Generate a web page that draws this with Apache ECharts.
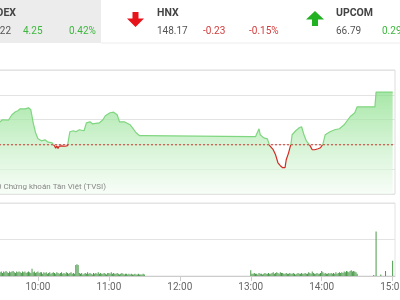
<!DOCTYPE html>
<html>
<head>
<meta charset="utf-8">
<script src="https://cdn.jsdelivr.net/npm/echarts@6/dist/echarts.min.js"></script>
<style>html,body{margin:0;padding:0;background:#fff}#c{width:400px;height:300px}</style>
</head>
<body>
<div id="c"></div>
<script>
// ---- data ----
var refPrice = 1011.97;
var priceTimes = ["9:15","9:20","9:25","9:28","9:30","9:35","9:38","9:41","9:43","9:45","9:49","9:52","9:54","9:56","9:58",
  "10:00","10:03","10:06","10:08","10:12","10:14","10:15","10:16","10:17","10:18","10:19","10:20","10:21","10:23","10:25","10:27",
  "10:30","10:32","10:35","10:39","10:41","10:44","10:46","10:52","10:55","10:57","11:01","11:04","11:07","11:09","11:13","11:18",
  "11:20","11:23","11:26","11:30","13:00","13:04","13:07","13:08","13:11","13:14","13:16","13:19","13:21","13:23","13:25","13:27",
  "13:29","13:30","13:32","13:34","13:35","13:38","13:41","13:43","13:45","13:47","13:50","13:52","13:54","13:57","13:59","14:01",
  "14:03","14:07","14:11","14:15","14:19","14:24","14:28","14:30","14:45","14:46","15:00"];
var priceValues = [1013.60,1013.95,1013.70,1013.82,1013.99,1013.95,1014.39,1014.63,1014.71,1014.87,1014.87,1014.95,1014.79,1013.74,1012.94,
  1012.45,1012.29,1012.37,1012.21,1012.13,1011.89,1011.70,1011.88,1011.68,1011.86,1011.70,1011.88,1011.72,1011.85,1011.90,1013.02,
  1013.10,1013.02,1013.18,1013.10,1013.74,1013.82,1013.66,1013.74,1013.99,1014.31,1014.55,1014.60,1014.39,1013.82,1013.82,1013.58,
  1013.34,1012.94,1012.70,1012.70,1012.62,1012.62,1013.26,1012.78,1012.53,1012.45,1011.90,1011.57,1011.16,1010.52,1010.28,1010.12,
  1010.12,1010.76,1011.32,1012.05,1012.78,1013.10,1013.34,1013.42,1012.78,1012.29,1011.92,1011.57,1011.57,1011.65,1011.73,1012.02,
  1012.78,1013.02,1013.18,1013.26,1013.58,1014.23,1014.55,1015.03,1015.03,1016.22,1016.22];

var volAMStart = "9:15";
var volAM = [1.2,0.8,0.7,0.6,0.7,0.5,0.6,0.6,0.5,0.7,0.6,0.5,0.6,
  0.5,0.6,0.4,0.6,0.5,0.7,0.5,0.4,0.6,0.5,0.6,0.7,0.5,0.4,0.6,0.5,0.6,0.5,0.4,0.6,0.5,0.6,0.4,0.5,0.6,0.5,0.4,1.0,0.5,0.6,0.4,0.5,
  0.6,0.4,0.5,0.5,0.3,0.5,0.4,0.5,0.3,0.4,0.5,0.3,0.4,0.5,0.4,0.3,0.5,0.4,0.3,0.4,0.5,0.3,0.4,0.3,0.5,0.4,0.3,0.4,0.5,0.3,
  0.4,0.3,1.5,1.6,1.5,0.4,0.3,0.4,0.2,0.3,0.4,0.3,0.5,0.3,0.4,0.3,0.2,0.4,0.3,0.4,0.3,0.5,0.3,0.4,0.3,0.3,0.4,0.3,0.2,0.4,
  0.4,0.3,0.5,0.3,0.4,0.3,0.3,0.4,0.3,0.2,0.3,0.4,0.3,0.2,0.3,0.3,0.2,0.3,0.2,0.3,0.2,0.2,0.3,0.2,0.2,0.3,0.2,0.2,0.2,0.3,0.2];
var volPMStart = "13:00";
var volPM = [0.8,0.3,0.3,0.4,0.3,0.3,0.2,0.4,0.3,0.3,0.2,0.3,0.4,0.3,0.3,0.4,0.3,0.3,0.4,0.5,0.3,0.4,0.5,0.4,0.3,0.5,0.4,0.4,0.3,0.3,
  0.4,0.3,0.3,0.4,0.3,0.3,0.4,0.3,0.2,0.3,0.4,0.3,0.3,0.4,0.3,0.3,0.4,0.3,0.3,0.5,0.4,0.3,0.6,0.4,0.3,0.3,0.4,0.3,0.3,0.4,
  0.7,0.5,0.3,0.4,0.3,0.3,0.4,0.3,0.4,0.3,0.4,0.3,0.5,0.3,0.4,0.5,0.4,0.5,0.4,0.6,0.5,0.7,0.6,0.5,0.7,0.8,0.6,0.7,0.6,0.5,0.3];
var volLateTimes = ["14:44","14:46","14:50","14:54","15:00"];
var volLate = [0.15,6.1,0.2,0.7,2.1];

var header = [
  {name:"VN-INDEX", price:"1,016.22", chg:"4.25", pct:"0.42%"},
  {name:"HNX", price:"148.17", chg:"-0.23", pct:"-0.15%"},
  {name:"UPCOM", price:"66.79", chg:"0.29", pct:"0.29%"}
];

// ---- helpers ----
function toMin(s){var p=s.split(':');return (+p[0])*60+(+p[1]);}
function fmt(m){var h=Math.floor(m/60),mm=m%60;return h+':'+(mm<10?'0':'')+mm;}

var priceData = priceTimes.map(function(t,i){return [toMin(t), priceValues[i]];});
var volData = [];
volAM.forEach(function(v,i){volData.push([toMin(volAMStart)+i, v]);});
volPM.forEach(function(v,i){volData.push([toMin(volPMStart)+i, v]);});
volLateTimes.forEach(function(t,i){volData.push([toMin(t), volLate[i]]);});

var GREEN='#3cb83c', RED='#d23c3c', GRAY='#555';
var FONT='Roboto';
var TS=10, HS=10.5;

var chart = echarts.init(document.getElementById('c'), null, {renderer:'canvas'});
var xMin = toMin("9:00"), xMax = toMin("15:02");
var refData = [[xMin, refPrice],[xMax, refPrice]];

var graphics = [
  {type:'rect', shape:{x:0,y:0,width:101,height:43}, style:{fill:'#ececec'}, z:0},
  {type:'line', shape:{x1:101,y1:43,x2:400,y2:43}, style:{stroke:'#ececec',lineWidth:1}},
  {type:'polygon', shape:{points:[[132.5,12],[138.5,12],[138.5,18.5],[144,18.5],[135.5,27],[127,18.5],[132.5,18.5]]}, style:{fill:'#e8141c'}},
  {type:'polygon', shape:{points:[[315,11],[324,19.5],[318,19.5],[318,26],[312,26],[312,19.5],[306,19.5]]}, style:{fill:'#22b122'}},
  {type:'text', style:{text:header[0].name, x:16, y:13, align:'right', verticalAlign:'middle', fontSize:HS, fontWeight:'bold', fontFamily:FONT, fill:'#444'}},
  {type:'text', style:{text:header[0].price, x:11, y:31, align:'right', verticalAlign:'middle', fontSize:TS, fontFamily:FONT, fill:GRAY}},
  {type:'text', style:{text:header[0].chg, x:23, y:31, verticalAlign:'middle', fontSize:TS, fontFamily:FONT, fill:GREEN}},
  {type:'text', style:{text:header[0].pct, x:69, y:31, verticalAlign:'middle', fontSize:TS, fontFamily:FONT, fill:GREEN}},
  {type:'text', style:{text:header[1].name, x:157, y:13, verticalAlign:'middle', fontSize:HS, fontWeight:'bold', fontFamily:FONT, fill:'#444'}},
  {type:'text', style:{text:header[1].price, x:157, y:31, verticalAlign:'middle', fontSize:TS, fontFamily:FONT, fill:GRAY}},
  {type:'text', style:{text:header[1].chg, x:203, y:31, verticalAlign:'middle', fontSize:TS, fontFamily:FONT, fill:RED}},
  {type:'text', style:{text:header[1].pct, x:249, y:31, verticalAlign:'middle', fontSize:TS, fontFamily:FONT, fill:RED}},
  {type:'text', style:{text:header[2].name, x:336, y:13, verticalAlign:'middle', fontSize:HS, fontWeight:'bold', fontFamily:FONT, fill:'#444'}},
  {type:'text', style:{text:header[2].price, x:336, y:31, verticalAlign:'middle', fontSize:TS, fontFamily:FONT, fill:GRAY}},
  {type:'text', style:{text:header[2].chg, x:382, y:31, verticalAlign:'middle', fontSize:TS, fontFamily:FONT, fill:GREEN}},
  {type:'text', z:10, style:{text:'© 2020 Chứng khoán Tân Việt (TVSI)', x:106, y:187, align:'right', verticalAlign:'middle', fontSize:8, fontFamily:FONT, fill:'#888'}}
];

chart.setOption({
  animation:false,
  graphic: graphics,
  grid:[
    {left:-33, right:5, top:70, height:124, show:true, borderColor:'#dddddd', borderWidth:1, containLabel:false, outerBoundsMode:'none'},
    {left:-33, right:5, top:203, height:73, show:true, borderColor:'#e3e3e3', borderWidth:1, containLabel:false, outerBoundsMode:'none'}
  ],
  visualMap:{show:false, type:'piecewise', seriesIndex:0, dimension:1,
    pieces:[{min:1000, max:refPrice, color:'#d42a22'},{min:refPrice, max:1030, color:'#7fd67f'}]},
  xAxis:[
    {type:'value', gridIndex:0, min:xMin, max:xMax, interval:60, axisLine:{show:false}, axisTick:{show:false}, axisLabel:{show:false}, splitLine:{show:false}},
    {type:'value', gridIndex:1, min:xMin, max:xMax, interval:60,
      axisLine:{show:true, lineStyle:{color:'#cccccc'}},
      axisTick:{show:true, length:5, lineStyle:{color:'#cccccc'}},
      axisLabel:{show:true, showMaxLabel:false, formatter:function(v){return v%60===0?fmt(v):'';}, color:'#666', fontSize:10, fontFamily:FONT, margin:6},
      splitLine:{show:false}}
  ],
  yAxis:[
    {type:'value', gridIndex:0, min:1008, max:1018, interval:2, axisLine:{show:false}, axisTick:{show:false}, axisLabel:{show:false},
      splitLine:{show:true, lineStyle:{color:'#e3e3e3', width:1}}},
    {type:'value', gridIndex:1, min:0, max:10, interval:5, axisLine:{show:false}, axisTick:{show:false}, axisLabel:{show:false},
      splitLine:{show:true, lineStyle:{color:'#e3e3e3', width:1}}}
  ],
  series:[
    {type:'line', xAxisIndex:0, yAxisIndex:0, data:priceData, showSymbol:false, symbol:'none', lineStyle:{width:1.2}, z:2,
      areaStyle:{origin:'start', color:new echarts.graphic.LinearGradient(0,0,0,1,[{offset:0,color:'#82dc82'},{offset:0.55,color:'#c6efc6'},{offset:1,color:'#f4fcf4'}])}
    },
    {type:'line', xAxisIndex:0, yAxisIndex:0, data:refData, symbol:'none', showSymbol:false, silent:true, z:3,
      lineStyle:{color:'#d0342c', type:[2,2], width:1}, itemStyle:{color:'#d0342c'}
    },
    {type:'bar', xAxisIndex:1, yAxisIndex:1, data:volData, barWidth:1, itemStyle:{color:'#4a9a4a'}}
  ]
});
</script>
</body>
</html>
